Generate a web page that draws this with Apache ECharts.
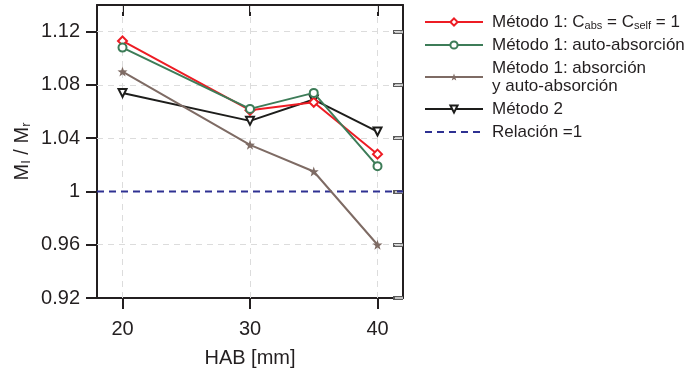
<!DOCTYPE html>
<html>
<head>
<meta charset="utf-8">
<script src="https://cdn.jsdelivr.net/npm/echarts@6/dist/echarts.min.js"></script>
<style>
  html, body { margin: 0; padding: 0; background: #fff; }
  #chart { width: 687px; height: 370px; }
</style>
</head>
<body>
<div id="chart"></div>
<script>
// Height above burner (mm)
const hab = [20, 30, 35, 40];

// Ratio M_I / M_r for each correction method
const metodo1Ideal = [1.113, 1.061, 1.067, 1.028];
const metodo1Auto = [1.108, 1.062, 1.074, 1.019];
const metodo1AbsAuto = [1.090, 1.035, 1.015, 0.960];
const metodo2 = [1.074, 1.053, 1.069, 1.045];
const reference = 1;

// Axis ticks
const xTicks = [20, 30, 40];
const yTicks = [0.92, 0.96, 1, 1.04, 1.08, 1.12];
const xRange = [18, 42];
const yRange = [0.92, 1.14];

const ink = '#231f20';
const font = "'Liberation Sans', Arial, Helvetica, sans-serif";

const names = {
  ideal: 'Método 1: Cabs = Cself = 1',
  auto: 'Método 1: auto-absorción',
  absAuto: 'Método 1: absorción\ny auto-absorción',
  m2: 'Método 2',
  ref: 'Relación =1'
};
const legendText = {};
legendText[names.ideal] = '{t|Método 1: C}{s|abs}{t| = C}{s|self}{t| = 1}';

const pair = arr => hab.map((x, i) => [x, arr[i]]);

const starPath = 'path://M0,-10 L2.35,-3.24 L9.51,-3.09 L3.8,1.24 L5.88,8.09 L0,4 L-5.88,8.09 L-3.8,1.24 L-9.51,-3.09 L-2.35,-3.24 Z';

const chart = echarts.init(document.getElementById('chart'), null, { renderer: 'canvas' });

const subRich = {
  t: { fontSize: 17, lineHeight: 18, color: ink, fontFamily: font },
  s: { fontSize: 11, lineHeight: 10, verticalAlign: 'bottom', color: ink, fontFamily: font }
};

// gridlines only inside the frame, not on its edges
const gridX = xTicks.filter(v => v > xRange[0] && v < xRange[1]);
const gridY = yTicks.filter(v => v > yRange[0] && v < yRange[1] && v !== reference);

chart.setOption({
  animation: false,
  textStyle: { fontFamily: font, color: ink },
  grid: { left: 97, right: 284, top: 5, bottom: 72, containLabel: false, outerBoundsMode: 'none' },
  xAxis: [
    {
      type: 'value', position: 'bottom', min: xRange[0], max: xRange[1],
      name: 'HAB [mm]', nameLocation: 'middle', nameGap: 50,
      nameTextStyle: { fontSize: 20, color: ink, fontFamily: font },
      axisLine: { show: true, lineStyle: { color: ink, width: 2 } },
      axisTick: { show: true, customValues: xTicks, length: 11, inside: false, lineStyle: { color: ink, width: 2 } },
      axisLabel: { show: true, customValues: xTicks, fontSize: 20, margin: 21, color: ink, fontFamily: font },
      splitLine: { show: false }
    },
    {
      type: 'value', position: 'top', min: xRange[0], max: xRange[1],
      axisLine: { show: true, onZero: false, lineStyle: { color: ink, width: 2 } },
      axisTick: { show: true, customValues: xTicks, length: 11, inside: true, lineStyle: { color: ink, width: 2 } },
      axisLabel: { show: true, customValues: xTicks, color: 'rgba(0,0,0,0)', fontSize: 1 },
      splitLine: { show: false }
    }
  ],
  yAxis: [
    {
      type: 'value', position: 'left', min: yRange[0], max: yRange[1],
      name: '{m|M}{s|I}{m| / M}{s|r}', nameLocation: 'middle', nameGap: 64,
      nameTextStyle: {
        fontSize: 20, color: ink, fontFamily: font,
        rich: {
          m: { fontSize: 20, lineHeight: 22, color: ink, fontFamily: font },
          s: { fontSize: 13, lineHeight: 12, verticalAlign: 'bottom', color: ink, fontFamily: font }
        }
      },
      axisLine: { show: true, lineStyle: { color: ink, width: 2 } },
      axisTick: { show: true, customValues: yTicks, length: 11, inside: false, lineStyle: { color: ink, width: 2 } },
      axisLabel: { show: true, customValues: yTicks, fontSize: 20, margin: 17, color: ink, fontFamily: font },
      splitLine: { show: false }
    },
    {
      type: 'value', position: 'right', min: yRange[0], max: yRange[1],
      axisLine: { show: true, lineStyle: { color: ink, width: 2 } },
      axisTick: { show: true, customValues: yTicks, length: 10, inside: true, lineStyle: { color: '#5a5a5a', width: 4 } },
      axisLabel: { show: false },
      splitLine: { show: false }
    },
    {
      type: 'value', position: 'right', min: yRange[0], max: yRange[1],
      axisLine: { show: false },
      axisTick: { show: true, customValues: yTicks, length: 8, inside: true, lineStyle: { color: '#e6e6e6', width: 1.5 } },
      axisLabel: { show: false },
      splitLine: { show: false }
    }
  ],
  legend: {
    orient: 'vertical', left: 419, top: 8,
    itemWidth: 58, itemHeight: 9, itemGap: 5,
    data: [
      names.ideal, names.auto, names.absAuto, names.m2,
      { name: names.ref, itemStyle: { opacity: 0 } }
    ],
    formatter: name => legendText[name] || name,
    textStyle: {
      fontSize: 17, lineHeight: 18, color: ink, fontFamily: font,
      padding: [0, 0, 0, 4],
      rich: subRich
    }
  },
  series: [
    {
      // dashed gridlines at the tick positions
      type: 'line', data: [], silent: true, z: 1,
      markLine: {
        z: 1, silent: true, symbol: 'none', animation: false,
        label: { show: false },
        lineStyle: { color: '#dcdcdc', width: 1, type: [6, 5] },
        data: gridX.map(v => ({ xAxis: v })).concat(gridY.map(v => ({ yAxis: v })))
      }
    },
    {
      name: names.ref, type: 'line', z: 10,
      data: [[xRange[0], reference], [xRange[1], reference]],
      symbol: 'none',
      lineStyle: { color: '#2e3192', width: 2, type: [7, 5] },
      itemStyle: { color: '#2e3192' }
    },
    {
      name: names.m2, type: 'line', z: 11, data: pair(metodo2),
      symbol: 'emptyTriangle', symbolRotate: 180, symbolSize: 8,
      lineStyle: { color: '#1d1d1b', width: 2 },
      itemStyle: { color: '#1d1d1b', borderWidth: 1.5 }
    },
    {
      name: names.absAuto, type: 'line', z: 12, data: pair(metodo1AbsAuto),
      symbol: starPath, symbolSize: 10,
      lineStyle: { color: '#7e6b64', width: 2 },
      itemStyle: { color: '#7e6b64' }
    },
    {
      name: names.ideal, type: 'line', z: 13, data: pair(metodo1Ideal),
      symbol: 'emptyDiamond', symbolSize: 9,
      lineStyle: { color: '#ed1c24', width: 2 },
      itemStyle: { color: '#ed1c24', borderWidth: 1.5 }
    },
    {
      name: names.auto, type: 'line', z: 14, data: pair(metodo1Auto),
      symbol: 'emptyCircle', symbolSize: 8,
      lineStyle: { color: '#3d7c58', width: 2 },
      itemStyle: { color: '#3d7c58', borderWidth: 1.5 }
    }
  ]
});
</script>
</body>
</html>
